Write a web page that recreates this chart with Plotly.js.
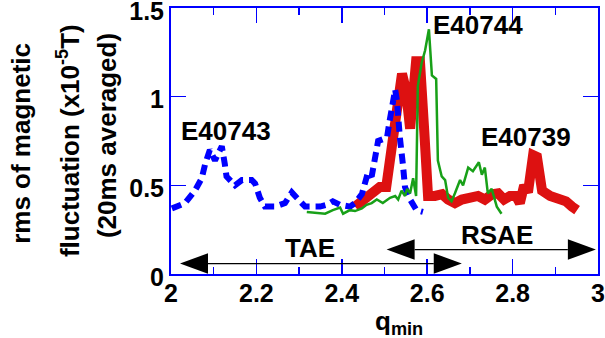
<!DOCTYPE html>
<html><head><meta charset="utf-8">
<script src="https://cdn.plot.ly/plotly-3.0.1.min.js"></script>
<style>html,body{margin:0;padding:0;background:#fff}#chart{width:605px;height:338px}</style>
</head><body><div id="chart"></div>
<script>
// E40743 (blue dashed)
const blueX = [2.002,2.033,2.056,2.072,2.080,2.091,2.103,2.119,2.126,2.130,2.150,2.166,2.189,2.197,2.208,2.220,2.244,2.267,2.283,2.294,2.314,2.349,2.365,2.379,2.396,2.419,2.431,2.447,2.454,2.461,2.470,2.480,2.485,2.496,2.506,2.511,2.517,2.525,2.529,2.532,2.536,2.543,2.548,2.560,2.575,2.590];
const blueY = [0.37,0.40,0.47,0.54,0.62,0.70,0.64,0.72,0.62,0.55,0.50,0.53,0.53,0.51,0.43,0.38,0.38,0.40,0.46,0.43,0.38,0.38,0.39,0.41,0.39,0.38,0.40,0.45,0.52,0.57,0.55,0.67,0.75,0.76,0.77,0.85,0.92,1.04,0.98,0.87,0.77,0.62,0.49,0.42,0.36,0.35];
// E40739 (red thick)
const redX = [2.431,2.457,2.473,2.489,2.504,2.518,2.532,2.541,2.550,2.560,2.574,2.583,2.593,2.602,2.618,2.635,2.649,2.665,2.681,2.700,2.719,2.735,2.752,2.766,2.780,2.794,2.808,2.817,2.827,2.836,2.848,2.857,2.869,2.888,2.904,2.925,2.939,2.951];
const redY = [0.38,0.43,0.47,0.49,0.49,0.75,1.04,1.13,1.04,0.82,1.20,1.20,0.81,0.44,0.44,0.45,0.42,0.40,0.42,0.43,0.44,0.42,0.45,0.455,0.42,0.44,0.44,0.40,0.50,0.46,0.67,0.66,0.47,0.44,0.43,0.41,0.38,0.36];
// E40744 (green thin)
const greenX = [2.318,2.349,2.361,2.379,2.396,2.403,2.419,2.431,2.447,2.458,2.470,2.482,2.496,2.513,2.525,2.532,2.540,2.548,2.553,2.560,2.567,2.574,2.578,2.587,2.595,2.604,2.611,2.621,2.625,2.634,2.642,2.649,2.657,2.665,2.677,2.684,2.696,2.707,2.721,2.728,2.735,2.742,2.751,2.763,2.774];
const greenY = [0.35,0.34,0.34,0.36,0.375,0.34,0.36,0.355,0.37,0.39,0.40,0.42,0.40,0.43,0.44,0.42,0.47,0.44,0.48,0.455,0.54,0.44,1.06,1.19,1.26,1.38,1.12,1.10,0.64,0.55,0.53,0.43,0.41,0.455,0.53,0.50,0.60,0.58,0.63,0.56,0.60,0.455,0.48,0.38,0.34];

const shotLabels = ["E40743","E40744","E40739"];
const shotLabelX = [2.128,2.719,2.831];
const shotLabelY = [0.806,1.405,0.774];

const rangeNames = ["TAE","RSAE"];
const rangeStart = [2.021,2.505];
const rangeEnd = [2.681,2.995];
const rangeLevel = [0.059,0.138];
const rangeNameX = [2.326,2.763];
const rangeNameY = [0.145,0.219];

const FONT = "Liberation Sans, Arial, Helvetica, sans-serif";
const BLUE = "#0000ff";

const traces = [
  {x: redX, y: redY, name: "E40739", mode: "lines", line: {color: "#dd1111", width: 10}},
  {x: blueX, y: blueY, name: "E40743", mode: "lines", line: {color: BLUE, width: 6, dash: "10px,6px"}},
  {x: greenX, y: greenY, name: "E40744", mode: "lines", line: {color: "#18a018", width: 2.5}}
];

const headL = 0.0656, headH = 0.058;
const shapes = [];
for (let i = 0; i < rangeNames.length; i++) {
  const a = rangeStart[i], b = rangeEnd[i], y = rangeLevel[i];
  shapes.push({type: "line", xref: "x", yref: "y", x0: a + headL, x1: b - headL, y0: y, y1: y, line: {color: "black", width: 1.2}});
  shapes.push({type: "path", xref: "x", yref: "y", path: `M ${a},${y} L ${a+headL},${y+headH} L ${a+headL},${y-headH} Z`, fillcolor: "black", line: {color: "black", width: 0}});
  shapes.push({type: "path", xref: "x", yref: "y", path: `M ${b},${y} L ${b-headL},${y+headH} L ${b-headL},${y-headH} Z`, fillcolor: "black", line: {color: "black", width: 0}});
}

const annFont = {family: FONT, size: 26, color: "black", weight: "bold"};
const annotations = [];
shotLabels.forEach((t, i) => annotations.push({x: shotLabelX[i], y: shotLabelY[i], xref: "x", yref: "y", text: t, showarrow: false, font: annFont, xanchor: "center", yanchor: "middle"}));
rangeNames.forEach((t, i) => annotations.push({x: rangeNameX[i], y: rangeNameY[i], xref: "x", yref: "y", text: t, showarrow: false, font: annFont, xanchor: "center", yanchor: "middle"}));
// y-axis title lines
const yTitleLines = ["rms of magnetic", "fluctuation (x10<sup>-5</sup>T)", "(20ms averaged)"];
const yTitleX = [-0.352, -0.241, -0.150];
const yTitleY = [0.492, 0.50, 0.522];
yTitleLines.forEach((t, i) => annotations.push({x: yTitleX[i], y: yTitleY[i], xref: "paper", yref: "paper", text: t, textangle: -90, showarrow: false, font: annFont, xanchor: "center", yanchor: "middle"}));
annotations.push({x: 0.534, y: -0.182, xref: "paper", yref: "paper", text: "q<sub>min</sub>", showarrow: false, font: annFont, xanchor: "center", yanchor: "middle"});

const axisCommon = {
  showline: true, linecolor: BLUE, linewidth: 2, mirror: "ticks",
  ticks: "inside", ticklen: 15, tickwidth: 1.5, tickcolor: BLUE,
  showgrid: false, zeroline: false, ticklabeloverflow: "allow",
  tickfont: {family: FONT, size: 25, color: "black", weight: "bold"}
};

const layout = {
  width: 605, height: 338,
  margin: {l: 171, r: 7, t: 8, b: 64.3},
  paper_bgcolor: "white", plot_bgcolor: "white",
  showlegend: false,
  xaxis: Object.assign({}, axisCommon, {range: [2, 3], dtick: 0.2, tick0: 2, ticklabelstandoff: -4,
    minor: {ticks: "inside", ticklen: 7, dtick: 0.1, tick0: 2, tickcolor: BLUE, tickwidth: 1.5}}),
  yaxis: Object.assign({}, axisCommon, {range: [0, 1.5], dtick: 0.5, tick0: 0, ticklabelshift: 3}),
  shapes: shapes,
  annotations: annotations
};

Plotly.newPlot("chart", traces, layout, {staticPlot: true, displayModeBar: false});
</script></body></html>
